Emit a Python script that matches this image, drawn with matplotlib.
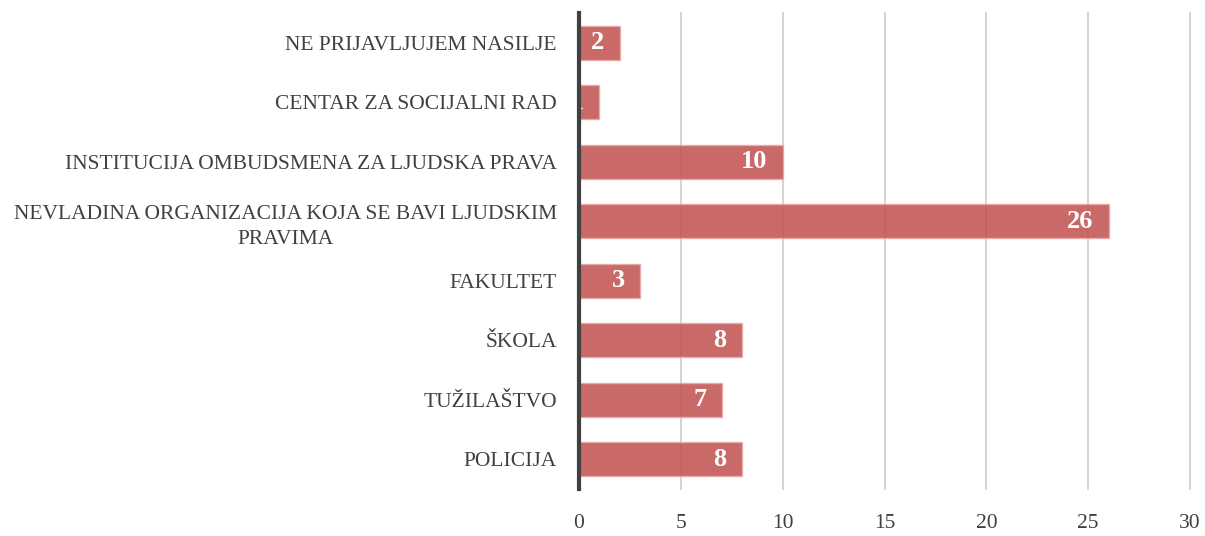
import matplotlib.pyplot as plt

categories = [
    "NE PRIJAVLJUJEM NASILJE",
    "CENTAR ZA SOCIJALNI RAD",
    "INSTITUCIJA OMBUDSMENA ZA LJUDSKA PRAVA",
    "NEVLADINA ORGANIZACIJA KOJA SE BAVI LJUDSKIM\nPRAVIMA",
    "FAKULTET",
    "ŠKOLA",
    "TUŽILAŠTVO",
    "POLICIJA",
]
values = [2, 1, 10, 26, 3, 8, 7, 8]
xticks = [0, 5, 10, 15, 20, 25, 30]

plt.rcParams['font.family'] = ['Liberation Serif', 'DejaVu Serif']

fig = plt.figure(figsize=(12.05, 5.36), dpi=100)
ax = fig.add_axes([0.4805, 0.0877, 0.5071, 0.888])

pos = list(range(len(categories)))[::-1]
bars = ax.barh(pos, values, height=0.57, color="#C0504D", alpha=0.85,
               edgecolor="#E8A9A8", linewidth=1, zorder=3)

for b, v in zip(bars, values):
    ax.text(b.get_width() - 0.75, b.get_y() + b.get_height() / 2, str(v),
            ha="right", va="center", color="white", fontsize=19,
            fontweight="bold", zorder=4)

ax.set_xlim(0, 30)
ax.set_ylim(-0.5, 7.5)
ax.set_xticks(xticks)
ax.set_yticks(pos)
ax.set_yticklabels(categories, multialignment="center", linespacing=1.45)
ax.tick_params(axis="both", length=0, labelsize=15.5, labelcolor="#404040")
ax.tick_params(axis="y", pad=16)
ax.tick_params(axis="x", pad=18)
ax.xaxis.grid(True, color="#CCCCCC", linewidth=1.2, zorder=0)
for gl in ax.get_xgridlines():
    gl.set_clip_on(False)
ax.set_axisbelow(True)
for s in ["top", "right", "bottom"]:
    ax.spines[s].set_visible(False)
ax.spines["left"].set_linewidth(3)
ax.spines["left"].set_color("#404040")
ax.spines["left"].set_zorder(5)

fig.savefig("out.png", dpi=100)
